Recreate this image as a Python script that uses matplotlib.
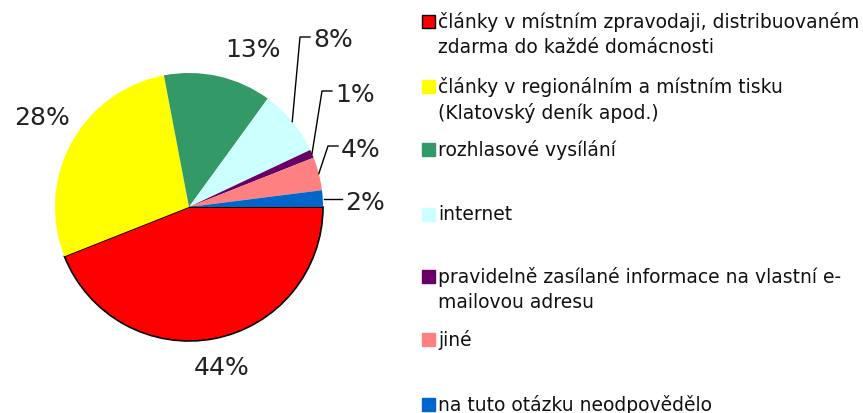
import matplotlib.pyplot as plt
from matplotlib.patches import Rectangle
import numpy as np

plt.rcParams['font.family'] = ['DejaVu Sans']

# data
categories = ["články v místním zpravodaji, distribuovaném\nzdarma do každé domácnosti",
              "články v regionálním a místním tisku\n(Klatovský deník apod.)",
              "rozhlasové vysílání",
              "internet",
              "pravidelně zasílané informace na vlastní e-\nmailovou adresu",
              "jiné",
              "na tuto otázku neodpovědělo"]
values = [44, 28, 13, 8, 1, 4, 2]
colors = ["#FF0000", "#FFFF00", "#339966", "#CCFFFF", "#660066", "#FF8080", "#0066CC"]

W, H = 863, 414
fig = plt.figure(figsize=(W / 100, H / 100), dpi=100)

# pie axes, scaled so that 1 data unit = R pixels
cx, cy, R = 189, 208, 134
axw = 420
ax = fig.add_axes([0, 0, axw / W, 1])

wedges, _ = ax.pie(values, colors=colors, startangle=0, counterclock=False,
                   radius=1, wedgeprops=dict(linewidth=0))
wedges[0].set_edgecolor('black')
wedges[0].set_linewidth(1.2)
ax.set_xlim(-cx / R, (axw - cx) / R)
ax.set_ylim(-(H - cy) / R, cy / R)
ax.axis('off')

def px(x, y):
    return (x - cx) / R, (cy - y) / R

# label placement in pixels: (text x, text y, elbow point or None)
label_pos = [(222, 368, None), (42, 118, None), (253, 50, None),
             (313, 40, (300, 38)), (335, 95, (322, 92)),
             (341, 150, (328, 147)), (345, 203, None)]

tot = sum(values)
start = 0.0
for i, v in enumerate(values):
    mid = np.deg2rad(start - v / tot * 180)
    start -= v / tot * 360
    tx, ty, elbow = label_pos[i]
    txt = f"{v}%"
    if v >= 10:
        ax.text(*px(tx, ty), txt, ha='center', va='center', fontsize=18, color='#222222')
        continue
    ex, ey = np.cos(mid), np.sin(mid)
    if elbow is not None:
        bx, by = px(*elbow)
        hx, _ = px(tx - 3, ty)
        ax.plot([ex, bx, hx], [ey, by, by], color='black', lw=1)
    else:
        hx, _ = px(tx - 3, ty)
        ax.plot([ex + 0.01, hx], [ey, ey], color='black', lw=1)
    ax.text(*px(tx, ty), txt, ha='left', va='center', fontsize=18, color='#222222')

# legend drawn manually
leg_y = [22, 87, 150, 215, 277, 340, 405]
for lab, c, y in zip(categories, colors, leg_y):
    ec = 'black' if c == "#FF0000" else c
    fig.patches.append(Rectangle((422 / W, 1 - (y + 6.5) / H), 13 / W, 13 / H,
                                 transform=fig.transFigure, facecolor=c,
                                 edgecolor=ec, lw=1))
    fig.text(438 / W, 1 - (y - 10) / H, lab, ha='left', va='top', fontsize=13.5,
             color='#111111', linespacing=1.4)

fig.savefig('out.png', dpi=100)
